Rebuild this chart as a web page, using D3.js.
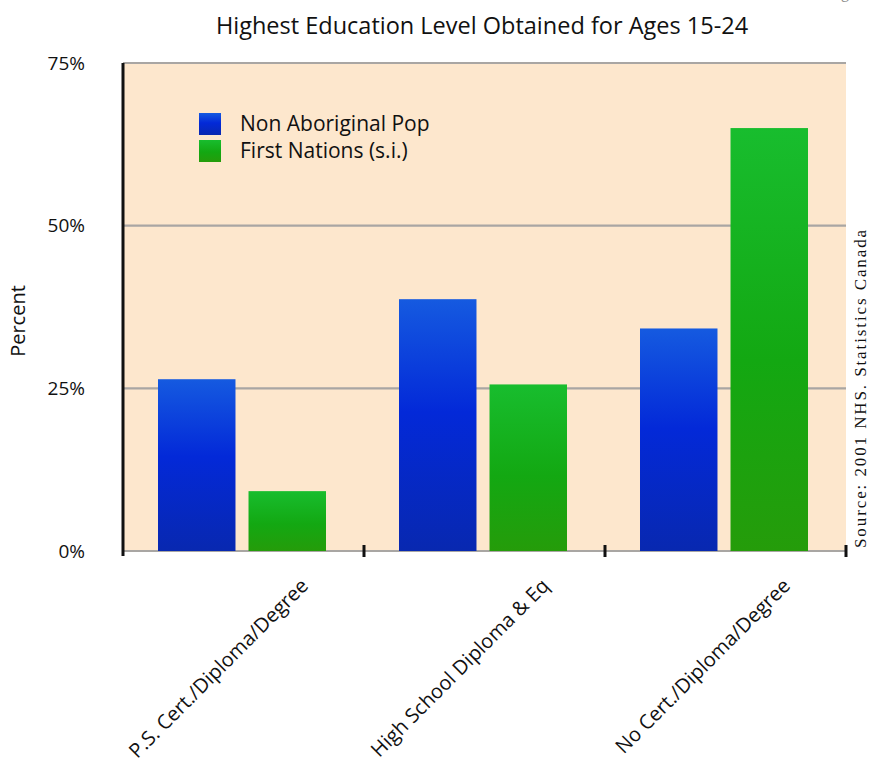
<!DOCTYPE html>
<html>
<head>
<meta charset="utf-8">
<script src="https://cdn.jsdelivr.net/npm/d3@7"></script>
<style>
  html, body { margin: 0; padding: 0; background: #ffffff; }
  svg { display: block; }
  text { font-family: "Open Sans", Lato, sans-serif; fill: #111; }
</style>
</head>
<body>
<svg id="chart" width="869" height="766"></svg>
<script>
// Highest education level, ages 15-24 (percent)
const categories = ["P.S. Cert./Diploma/Degree", "High School Diploma & Eq", "No Cert./Diploma/Degree"];
const seriesNames = ["Non Aboriginal Pop", "First Nations (s.i.)"];
const nonAboriginal = [26.4, 38.7, 34.2];
const firstNations = [9.2, 25.6, 65.0];
const yTicks = [0, 25, 50, 75];

const W = 869, H = 766;
const margin = { left: 123, right: 23, top: 63, bottom: 215 };
const plotW = W - margin.left - margin.right;
const plotH = H - margin.top - margin.bottom;

const svg = d3.select("#chart");
const defs = svg.append("defs");

function verticalGradient(id, stops) {
  const g = defs.append("linearGradient").attr("id", id)
    .attr("x1", 0).attr("y1", 0).attr("x2", 0).attr("y2", 1);
  stops.forEach(([o, c]) => g.append("stop").attr("offset", o).attr("stop-color", c));
}
verticalGradient("gBlue", [[0, "#155ae0"], [0.45, "#0329d8"], [1, "#0828b0"]]);
verticalGradient("gGreen", [[0, "#18bd2e"], [0.55, "#13a812"], [1, "#259c0a"]]);
const fills = ["url(#gBlue)", "url(#gGreen)"];

const x = d3.scaleBand().domain(categories).range([0, plotW]);
const inner = d3.scaleBand().domain([0, 1]).range([35, x.bandwidth() - 38]).paddingInner(0.144);
const y = d3.scaleLinear().domain([0, 75]).range([plotH, 0]);

const g = svg.append("g").attr("transform", `translate(${margin.left},${margin.top})`);

// plot background
g.append("rect").attr("x", 0).attr("y", 0).attr("width", plotW).attr("height", plotH)
  .attr("fill", "#fde7cd");

// horizontal gridlines
g.append("g").selectAll("line").data(yTicks).join("line")
  .attr("x1", 0).attr("x2", plotW)
  .attr("y1", d => y(d)).attr("y2", d => y(d))
  .attr("stroke", "#a9a6a3").attr("stroke-width", 2.2);

// bars
const rows = categories.map((c, i) => ({ c, v: [nonAboriginal[i], firstNations[i]] }));
const grp = g.append("g").selectAll("g").data(rows).join("g")
  .attr("transform", d => `translate(${x(d.c)},0)`);
grp.selectAll("rect").data(d => d.v.map((v, k) => ({ v, k }))).join("rect")
  .attr("x", d => inner(d.k)).attr("width", inner.bandwidth())
  .attr("y", d => y(d.v)).attr("height", d => y(0) - y(d.v))
  .attr("fill", d => fills[d.k]);

// y axis line
g.append("line").attr("x1", 0).attr("x2", 0).attr("y1", 0).attr("y2", plotH + 5)
  .attr("stroke", "#111").attr("stroke-width", 3);

// y tick labels
g.append("g").selectAll("text").data(yTicks).join("text")
  .attr("x", -38).attr("y", d => y(d)).attr("dy", "0.35em")
  .attr("text-anchor", "end").attr("font-size", 19)
  .text(d => d + "%");

// category boundary ticks
g.append("g").selectAll("line").data(categories.slice(1).concat(["end"])).join("line")
  .attr("x1", (d, i) => x.bandwidth() * (i + 1)).attr("x2", (d, i) => x.bandwidth() * (i + 1))
  .attr("y1", plotH - 6).attr("y2", plotH + 6)
  .attr("stroke", "#111").attr("stroke-width", 3);

// category labels, rotated
g.append("g").selectAll("text").data(categories).join("text")
  .attr("transform", d => `translate(${x(d) + x.bandwidth() / 2 + 66},${plotH + 36}) rotate(-45)`)
  .attr("text-anchor", "end").attr("font-size", 20)
  .text(d => d);

// y axis title
svg.append("text")
  .attr("transform", `translate(25,${margin.top + 258}) rotate(-90)`)
  .attr("text-anchor", "middle").attr("font-size", 20)
  .text("Percent");

// chart title
svg.append("text").attr("x", 482).attr("y", 34).attr("text-anchor", "middle")
  .attr("font-size", 23.5).text("Highest Education Level Obtained for Ages 15-24");

// clipped descender of the heading line above
svg.append("text").attr("x", 849).attr("y", -2).attr("text-anchor", "end")
  .attr("font-size", 16).style("fill", "#888")
  .style("font-family", "'Liberation Serif', serif").text("g");

// legend
const leg = svg.append("g").attr("transform", "translate(199,113)");
seriesNames.forEach((n, k) => {
  leg.append("rect").attr("x", 0).attr("y", k * 27).attr("width", 22).attr("height", 22)
    .attr("fill", fills[k]);
  leg.append("text").attr("x", 41).attr("y", k * 27 + 11).attr("dy", "0.35em")
    .attr("font-size", 21).text(n);
});

// source note
svg.append("text")
  .attr("transform", `translate(866,548) rotate(-90)`)
  .attr("text-anchor", "start").attr("font-size", 17).attr("letter-spacing", 1.9)
  .style("font-family", "'Liberation Serif', 'DejaVu Serif', serif")
  .text("Source: 2001 NHS. Statistics Canada");
</script>
</body>
</html>
